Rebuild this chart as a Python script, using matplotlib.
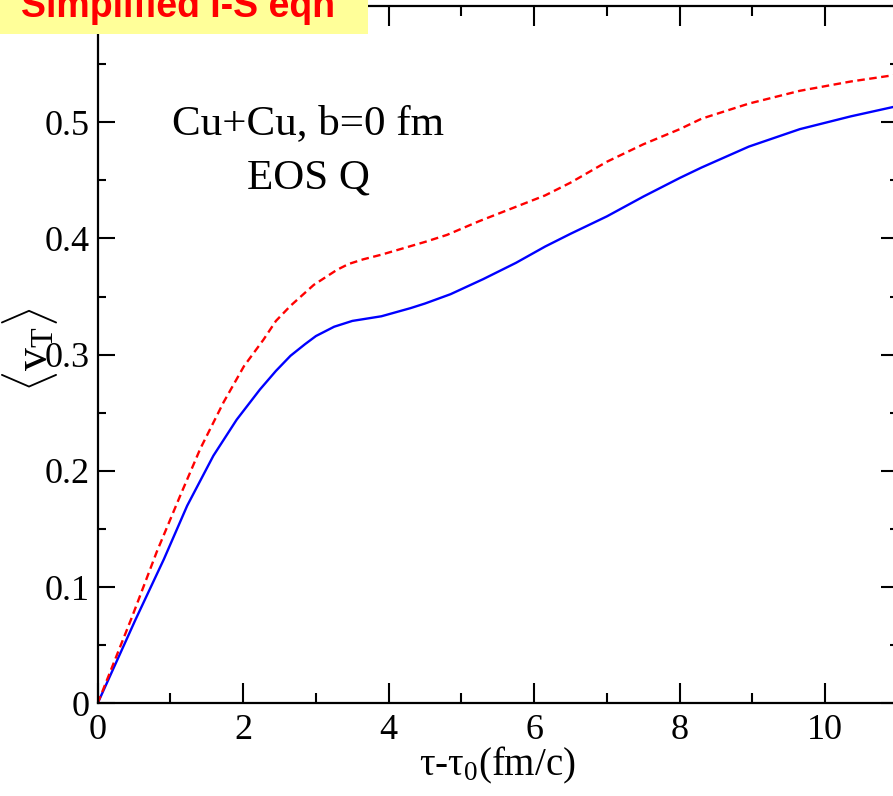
import matplotlib
matplotlib.use('Agg')
import matplotlib.pyplot as plt
from matplotlib.patches import Rectangle
from matplotlib.ticker import MultipleLocator

plt.rcParams['font.family'] = 'Liberation Serif'
plt.rcParams['mathtext.fontset'] = 'custom'
plt.rcParams['mathtext.rm'] = 'Liberation Serif'
plt.rcParams['mathtext.it'] = 'Liberation Serif:italic'

# <v_T> vs tau - tau0, Cu+Cu central, EOS Q
t_ideal = [0, 0.52, 0.91, 1.23, 1.59, 1.91, 2.23, 2.45, 2.65, 2.85, 3.0, 3.25, 3.5,
           3.9, 4.3, 4.5, 4.85, 5.3, 5.75, 6.15, 6.5, 7.0, 7.5, 8.0, 8.3, 8.95,
           9.65, 10.35, 11.0]
v_ideal = [0, 0.072, 0.124, 0.170, 0.213, 0.244, 0.270, 0.286, 0.299, 0.309, 0.316,
           0.324, 0.329, 0.333, 0.340, 0.344, 0.352, 0.365, 0.379, 0.393, 0.404,
           0.419, 0.436, 0.452, 0.461, 0.479, 0.494, 0.505, 0.514]

t_visc = [0, 0.47, 0.81, 1.13, 1.41, 1.73, 2.01, 2.28, 2.45, 2.65, 2.97, 3.29, 3.45,
          3.65, 3.9, 4.5, 4.8, 5.25, 5.7, 6.15, 6.5, 7.0, 7.5, 8.0, 8.3, 8.95,
          9.65, 10.35, 11.0]
v_visc = [0, 0.074, 0.130, 0.178, 0.219, 0.259, 0.290, 0.313, 0.329, 0.342, 0.360,
          0.373, 0.378, 0.382, 0.386, 0.397, 0.403, 0.415, 0.426, 0.437, 0.448,
          0.466, 0.481, 0.494, 0.503, 0.516, 0.527, 0.535, 0.541]

xticks = [0, 2, 4, 6, 8, 10]
yticks = [0, 0.1, 0.2, 0.3, 0.4, 0.5]
ytick_labels = ['0', '0.1', '0.2', '0.3', '0.4', '0.5']

fig = plt.figure(figsize=(8.93, 7.96), dpi=100)
ax = fig.add_axes([0.1094, 0.1165, 0.8962, 0.876])

ax.plot(t_ideal, v_ideal, color='#0000ff', lw=1.7)
ax.plot(t_visc, v_visc, color='#ff0000', lw=1.7, dashes=(3.2, 1.9))

ax.set_xlim(0, 11)
ax.set_ylim(0, 0.6)
ax.set_xticks(xticks)
ax.set_xticklabels([str(v) for v in xticks])
ax.set_yticks(yticks)
ax.set_yticklabels(ytick_labels)
ax.xaxis.set_minor_locator(MultipleLocator(1))
ax.yaxis.set_minor_locator(MultipleLocator(0.05))

for s in ax.spines.values():
    s.set_linewidth(1.6)
ax.tick_params(axis='x', which='major', direction='in', top=True, length=14.4,
               width=1.5, labelsize=26, pad=8)
ax.tick_params(axis='x', which='minor', direction='in', top=True, length=7.2, width=1.5)
ax.tick_params(axis='y', which='major', direction='in', right=True, length=12,
               width=1.5, labelsize=26, pad=6)
ax.tick_params(axis='y', which='minor', direction='in', right=True, length=5.8, width=1.5)

ax.text(2.89, 0.490, 'Cu+Cu, b=0 fm', fontsize=31, ha='center', va='baseline')
ax.text(2.89, 0.443, 'EOS Q', fontsize=31, ha='center', va='baseline')

fig.text(497 / 893, 1 - 775 / 796, r'τ-τ$_0$(fm/c)', fontsize=28,
         ha='center', va='baseline')
fig.text(30 / 893, 1 - 350 / 796, r'$\langle\mathrm{v}_\mathrm{T}\rangle$',
         fontsize=33, rotation=90, ha='center', va='center')

# banner in the corner
fig.patches.append(Rectangle((0, 1 - 34.3 / 796), 367.7 / 893, 34.3 / 796,
                             transform=fig.transFigure, facecolor='#ffff99',
                             edgecolor='none', zorder=5))
fig.text(20.7 / 893, 1 - 16.7 / 796, 'Simplified I-S eqn', fontsize=27,
         family='Liberation Sans', weight='bold', color='#ff0000',
         ha='left', va='baseline', zorder=6)

fig.savefig('out.png', dpi=100)
